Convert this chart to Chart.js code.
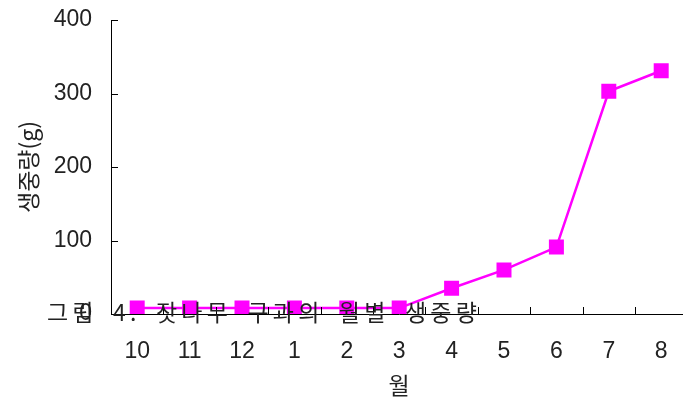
<!DOCTYPE html>
<html>
<head>
<meta charset="utf-8">
<script src="https://cdn.jsdelivr.net/npm/chart.js@4/dist/chart.umd.min.js"></script>
<style>
  html, body { margin: 0; padding: 0; background: #fff; overflow: hidden; }
  #wrap { position: relative; width: 683px; height: 403px; overflow: hidden; }
  #caption {
    position: absolute; left: 47px; top: 296px;
    font: 23px "Noto Sans CJK KR", sans-serif; letter-spacing: 4.2px; word-spacing: 6px;
    color: #222; white-space: nowrap; line-height: 30px;
  }
</style>
</head>
<body>
<div id="wrap">
  <canvas id="chart" width="698" height="403"></canvas>
  <div id="caption">그림 4. 잣나무 구과의 월별 생중량</div>
</div>
<script>
const months = ['10', '11', '12', '1', '2', '3', '4', '5', '6', '7', '8'];
const freshWeight = [8, 8, 8, 8, 8, 8, 35, 60, 91, 303, 331];
const yTicks = [0, 100, 200, 300, 400];

const tickFont = { family: 'Liberation Sans, Arial, sans-serif', size: 23 };
const titleFont = { family: '"Noto Sans CJK KR", sans-serif', size: 23 };

// inner tick marks (the source chart draws them inside the plot)
const innerTicks = {
    id: 'innerTicks',
    afterDraw(chart) {
        const { ctx, chartArea, scales } = chart;
        const len = 7;
        ctx.save();
        ctx.strokeStyle = '#000';
        ctx.lineWidth = 1;
        ctx.beginPath();
        yTicks.forEach(v => {
            const y = Math.round(scales.y.getPixelForValue(v)) + 0.5;
            ctx.moveTo(chartArea.left, y);
            ctx.lineTo(chartArea.left + len, y);
        });
        const step = scales.x.getPixelForTick(1) - scales.x.getPixelForTick(0);
        for (let i = 1; i < months.length; i++) {
            const x = Math.round(scales.x.getPixelForTick(i) - step / 2) + 0.5;
            ctx.moveTo(x, chartArea.bottom);
            ctx.lineTo(x, chartArea.bottom - len);
        }
        ctx.stroke();
        ctx.restore();
    }
};

new Chart(document.getElementById('chart'), {
    type: 'line',
    data: {
        labels: months,
        datasets: [{
            data: freshWeight,
            borderColor: '#ff00ff',
            backgroundColor: '#ff00ff',
            borderWidth: 2.5,
            pointStyle: 'rect',
            pointRadius: 10.6,
            pointBorderWidth: 0,
            tension: 0
        }]
    },
    options: {
        responsive: false,
        animation: false,
        layout: { padding: { top: 20, right: 0, left: 0, bottom: 0 } },
        plugins: { legend: { display: false }, tooltip: { enabled: false } },
        scales: {
            x: {
                offset: true,
                grid: { display: true, drawOnChartArea: false, drawTicks: false },
                border: { color: '#000', width: 1 },
                ticks: { color: '#222', font: tickFont, padding: 24, maxRotation: 0 },
                title: { display: true, text: '월', color: '#222', font: titleFont, padding: { top: 8, bottom: 4 } },
                afterFit(scale) { scale.height = 89; }
            },
            y: {
                min: 0,
                max: 400,
                afterBuildTicks(scale) { scale.ticks = yTicks.map(v => ({ value: v })); },
                grid: { display: true, drawOnChartArea: false, drawTicks: false },
                border: { color: '#000', width: 1 },
                ticks: { color: '#222', font: tickFont, padding: 19 },
                title: { display: true, text: '생중량(g)', color: '#222', font: titleFont, padding: { top: 14, bottom: 0 } },
                afterFit(scale) {
                    scale.width = 111;
                    scale.paddingTop = 0;
                    scale.paddingBottom = 0;
                }
            }
        }
    },
    plugins: [innerTicks]
});
</script>
</body>
</html>
